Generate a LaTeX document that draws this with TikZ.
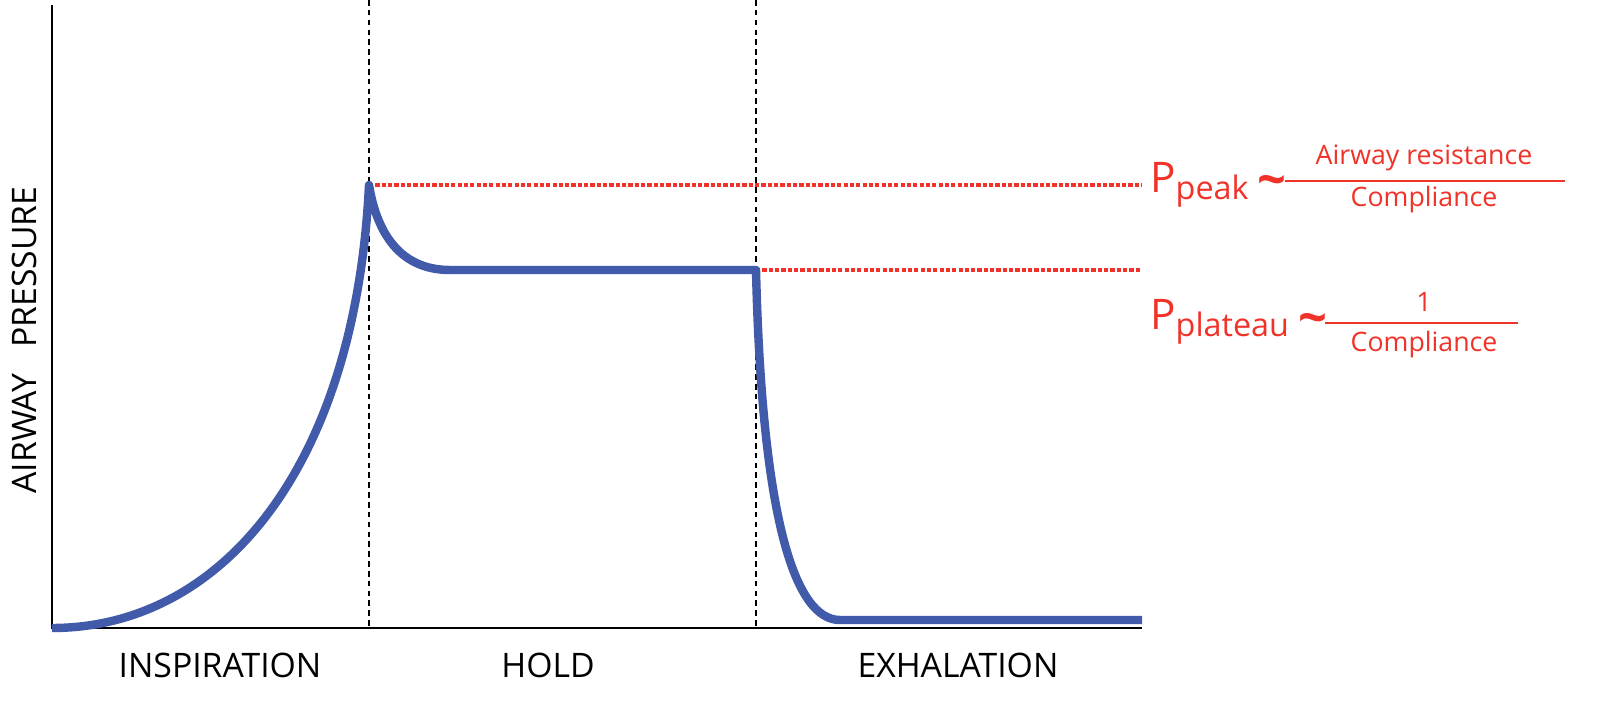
\documentclass[tikz,border=0pt]{standalone}
\usepackage{fontspec}
\setmainfont{Open Sans}
\definecolor{curveblue}{RGB}{65,90,170}
\definecolor{levelred}{RGB}{240,50,40}
\tikzset{
  phase/.style={font=\fontsize{24}{28}\selectfont, anchor=center},
  level/.style={levelred, line width=3pt, dash pattern=on 3pt off 1.5pt},
  marker/.style={black, dash pattern=on 4pt off 3pt, line width=0.8pt},
  eqn/.style={levelred, font=\fontsize{30}{34}\selectfont, anchor=west, inner sep=0pt},
  frac/.style={levelred, font=\fontsize{19}{22}\selectfont, inner sep=0pt},
  fracbar/.style={levelred, line width=1pt},
}
\newcommand{\approxsign}{{\fontsize{36}{36}\selectfont\textbf{\char"7E}}}
\begin{document}
\begin{tikzpicture}[x=0.025cm, y=-0.025cm]
    \clip (0,0) rectangle (1600,703);
    % axes
    \draw[line width=1pt] (52,5) -- (52,628) -- (1142,628);
    \draw[marker] (369,0) -- (369,628);
    \draw[marker] (756,0) -- (756,628);

    \coordinate (start) at (52,628);
    \coordinate (peak) at (369,185);
    \coordinate (holdstart) at (450,270);
    \coordinate (holdend) at (756,270);
    \coordinate (low) at (840,620);
    \coordinate (stop) at (1142,620);

    % pressure levels
    \draw[level] (peak) -- (1142,185);
    \draw[level] (holdend) -- (1142,270);

    % pressure curve
    \draw[curveblue, line width=6pt, line join=round]
        (start) .. controls (220,628) and (355,470) .. (peak)
        .. controls (378,240) and (405,270) .. (holdstart)
        -- (holdend)
        .. controls (762,520) and (795,620) .. (low)
        -- (stop);

    % labels
    \node[phase] (insp) at (220,665) {INSPIRATION};
    \node[phase] (hold) at (548,665) {HOLD};
    \node[phase] (exh) at (958,665) {EXHALATION};
    \node[phase, rotate=90] (ylab) at (24,340) {AIRWAY\ \ \ PRESSURE};

    \node[eqn] (ppeak) at (1150,185) {P\raisebox{-0.3ex}{\fontsize{23}{24}\selectfont peak}};
    \node[levelred, anchor=center] (peaktilde) at (1272,186) {\approxsign};
    \draw[fracbar] (1285,181) -- (1565,181);
    \node[frac] (peaknum) at (1424,158) {Airway resistance};
    \node[frac] (peakden) at (1424,200) {Compliance};

    \node[eqn] (pplat) at (1150,322) {P\raisebox{-0.3ex}{\fontsize{23}{24}\selectfont plateau}};
    \node[levelred, anchor=center] (plattilde) at (1313,324) {\approxsign};
    \draw[fracbar] (1325,323) -- (1518,323);
    \node[frac] (platnum) at (1424,302) {1};
    \node[frac] (platden) at (1424,345) {Compliance};
\end{tikzpicture}
\end{document}
